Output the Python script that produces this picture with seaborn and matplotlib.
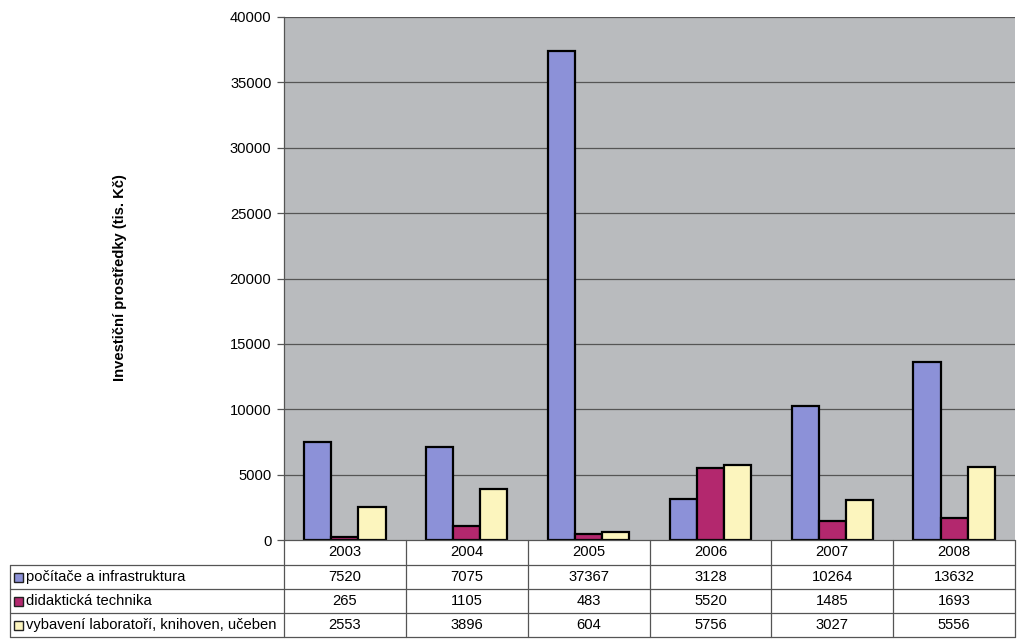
import matplotlib
matplotlib.use("Agg")
import matplotlib.pyplot as plt
import seaborn as sns
import pandas as pd
from matplotlib.lines import Line2D
from matplotlib.patches import Rectangle

years = ["2003", "2004", "2005", "2006", "2007", "2008"]
series_names = ["počítače a infrastruktura", "didaktická technika",
                "vybavení laboratoří, knihoven, učeben"]
pocitace = [7520, 7075, 37367, 3128, 10264, 13632]
didakticka = [265, 1105, 483, 5520, 1485, 1693]
vybaveni = [2553, 3896, 604, 5756, 3027, 5556]
y_label = "Investiční prostředky (tis. Kč)"

colors = ["#8C91D8", "#B3286E", "#FCF5BE"]

values = [pocitace, didakticka, vybaveni]
rows = []
for name, vals in zip(series_names, values):
    for y, v in zip(years, vals):
        rows.append({"rok": y, "série": name, "hodnota": v})
df = pd.DataFrame(rows)

sns.set_theme(style="white")
plt.rcParams["font.family"] = ["Liberation Sans", "DejaVu Sans"]
plt.rcParams["text.color"] = "black"

FS = 10.6
W, H = 1024, 644
fig = plt.figure(figsize=(W / 100, H / 100), dpi=100)
fig.patch.set_facecolor("white")

x0, x1 = 284, 1015
y_top, y_bot = 17, 540
ax = fig.add_axes([x0 / W, (H - y_bot) / H, (x1 - x0) / W, (y_bot - y_top) / H])
ax.set_facecolor("#B9BBBE")

sns.barplot(data=df, x="rok", y="hodnota", hue="série", order=years,
            hue_order=series_names, palette=colors, width=0.667,
            edgecolor="black", linewidth=1.6, saturation=1, ax=ax, legend=False)

ax.set_ylim(0, 40000)
ax.set_xlim(-0.5, len(years) - 0.5)
ax.set_yticks(range(0, 40001, 5000))
for t in range(5000, 40001, 5000):
    ax.axhline(t, color="#555555", lw=0.9, zorder=0.5)
ax.set_axisbelow(True)
ax.set_xticks([])
ax.set_xlabel("")
ax.set_ylabel("")
ax.tick_params(axis="y", left=True, length=5, width=0.9, color="#555555",
               labelsize=FS, pad=4, labelcolor="black")
for s in ["top", "right", "bottom"]:
    ax.spines[s].set_visible(False)
ax.spines["left"].set_color("#555555")
ax.spines["left"].set_linewidth(0.9)

fig.text(120 / W, 1 - 278 / H, y_label, rotation=90, ha="center", va="center",
         fontsize=FS, fontweight="bold", color="black")

# data table
def fx(px):
    return px / W

def fy(py):
    return 1 - py / H

line_c = "#555555"
row_y = [540, 565, 589, 613, 637]
col_x = [x0 + i * (x1 - x0) / len(years) for i in range(len(years) + 1)]
left = 10

def hline(xa, xb, y):
    fig.add_artist(Line2D([fx(xa), fx(xb)], [fy(y), fy(y)], color=line_c, lw=0.9))

def vline(x, ya, yb):
    fig.add_artist(Line2D([fx(x), fx(x)], [fy(ya), fy(yb)], color=line_c, lw=0.9))

hline(x0, x1, row_y[0])
for y in row_y[1:]:
    hline(left, x1, y)
for x in col_x:
    vline(x, row_y[0], row_y[-1])
vline(left, row_y[1], row_y[-1])

for i, yr in enumerate(years):
    cx = (col_x[i] + col_x[i + 1]) / 2
    fig.text(fx(cx), fy((row_y[0] + row_y[1]) / 2), yr, ha="center", va="center",
             fontsize=FS, color="black")
for r, (name, vals, c) in enumerate(zip(series_names, values, colors)):
    cy = (row_y[r + 1] + row_y[r + 2]) / 2
    fig.add_artist(Rectangle((fx(14), fy(cy + 4.5)), 9 / W, 9 / H, facecolor=c,
                             edgecolor="#222222", lw=1.0, transform=fig.transFigure))
    fig.text(fx(26), fy(cy), name, ha="left", va="center", fontsize=FS, color="black")
    for i, v in enumerate(vals):
        cx = (col_x[i] + col_x[i + 1]) / 2
        fig.text(fx(cx), fy(cy), str(v), ha="center", va="center", fontsize=FS, color="black")

fig.savefig("out.png", dpi=100)
